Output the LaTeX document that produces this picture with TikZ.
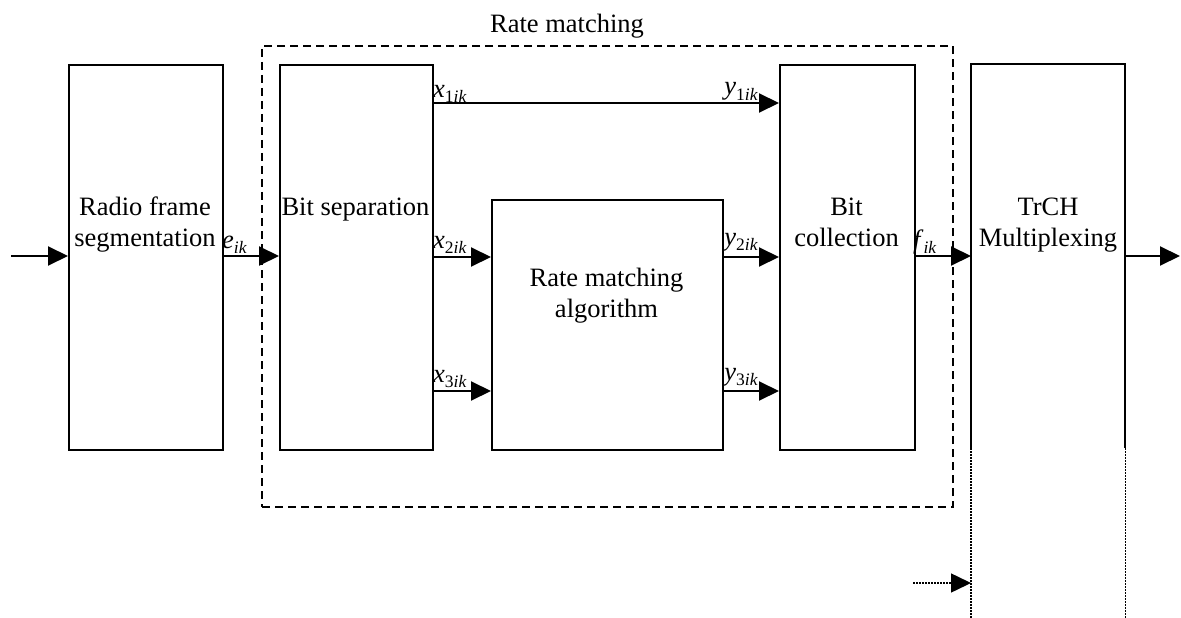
\documentclass[tikz,border=0pt]{standalone}
\usepackage{fontspec}
\setmainfont{Liberation Serif}
\usetikzlibrary{arrows.meta}
\newcommand{\lbl}[2]{\textit{#1}{\fontsize{17.5}{18}\selectfont\raisebox{-5.5pt}{#2}}}
\tikzset{
  blk/.style={draw, line width=2pt, inner sep=0pt, anchor=north west},
  txt/.style={inner sep=0pt, align=center, anchor=base, font=\fontsize{26.5}{31}\selectfont},
  sig/.style={inner sep=0pt, font=\fontsize{26.5}{31}\selectfont},
  arr/.style={line width=2pt, -{Triangle[length=20pt,width=19pt]}},
  dotarr/.style={line width=1.5pt, dash pattern=on 1.5pt off 1.5pt, -{Triangle[length=20pt,width=19pt]}},
  rmframe/.style={draw, line width=2pt, dash pattern=on 8pt off 5pt, inner sep=0pt, anchor=north west},
}
\begin{document}
\begin{tikzpicture}[x=1pt,y=-1pt]
\useasboundingbox (0,0) rectangle (1181,618);
% dashed rate matching frame
\node[rmframe, minimum width=691pt, minimum height=461pt] (rm) at (261,45) {};
\node[txt] (rmt) at (567,33) {Rate matching};
% blocks
\node[blk, minimum width=154pt, minimum height=385pt] (rf) at (68,64) {};
\node[blk, minimum width=153pt, minimum height=385pt] (bs) at (279,64) {};
\node[blk, minimum width=231pt, minimum height=250pt] (rma) at (491,199) {};
\node[blk, minimum width=135pt, minimum height=385pt] (bc) at (779,64) {};
\node[inner sep=0pt, anchor=north west, minimum width=154pt, minimum height=384pt] (tr) at (971,64) {};
\draw[line width=2pt] (tr.south west) -- (tr.north west) -- (tr.north east) -- (tr.south east);
\draw[line width=1.5pt, dash pattern=on 1.5pt off 1.5pt] (tr.south west) -- ++(0,170);
\draw[line width=1.5pt, dash pattern=on 1.5pt off 1.5pt] (tr.south east) -- ++(0,170);
% block texts (base = baseline of last line)
\node[txt] (rft) at (145,246) {Radio frame\\segmentation};
\node[txt] (bst) at (355.5,215) {Bit separation};
\node[txt] (rmat) at (606.5,317) {Rate matching\\algorithm};
\node[txt] (bct) at (846.5,246) {Bit\\collection};
\node[txt] (trt) at (1048,246) {TrCH\\Multiplexing};
% connectors
\coordinate (in) at (11,256);
\coordinate (out) at (1180,256);
\coordinate (dotin) at (913,583);
\draw[arr] (in) -- (rf.west |- in);
\draw[arr] (rf.east |- in) -- (bs.west |- in);
\draw[arr] (bs.east |- 0,103) -- (bc.west |- 0,103);
\draw[arr] (bs.east |- 0,257) -- (rma.west |- 0,257);
\draw[arr] (bs.east |- 0,391) -- (rma.west |- 0,391);
\draw[arr] (rma.east |- 0,257) -- (bc.west |- 0,257);
\draw[arr] (rma.east |- 0,391) -- (bc.west |- 0,391);
\draw[arr] (bc.east |- in) -- (tr.west |- in);
\draw[arr] (tr.east |- in) -- (out);
\draw[dotarr] (dotin) -- (tr.west |- dotin);
% signal labels
\node[sig, anchor=base west] (e) at (222,248) {\lbl{e}{\textit{ik}}};
\node[sig, anchor=base west] (x1) at (433,97) {\lbl{x}{1\textit{ik}}};
\node[sig, anchor=base west] (x2) at (433,248) {\lbl{x}{2\textit{ik}}};
\node[sig, anchor=base west] (x3) at (433,382) {\lbl{x}{3\textit{ik}}};
\node[sig, anchor=base east] (y1) at (758,95) {\lbl{y}{1\textit{ik}}};
\node[sig, anchor=base east] (y2) at (758,245) {\lbl{y}{2\textit{ik}}};
\node[sig, anchor=base east] (y3) at (758,380) {\lbl{y}{3\textit{ik}}};
\node[sig, anchor=base west] (f) at (913,248) {\lbl{f}{\textit{ik}}};
\end{tikzpicture}
\end{document}
